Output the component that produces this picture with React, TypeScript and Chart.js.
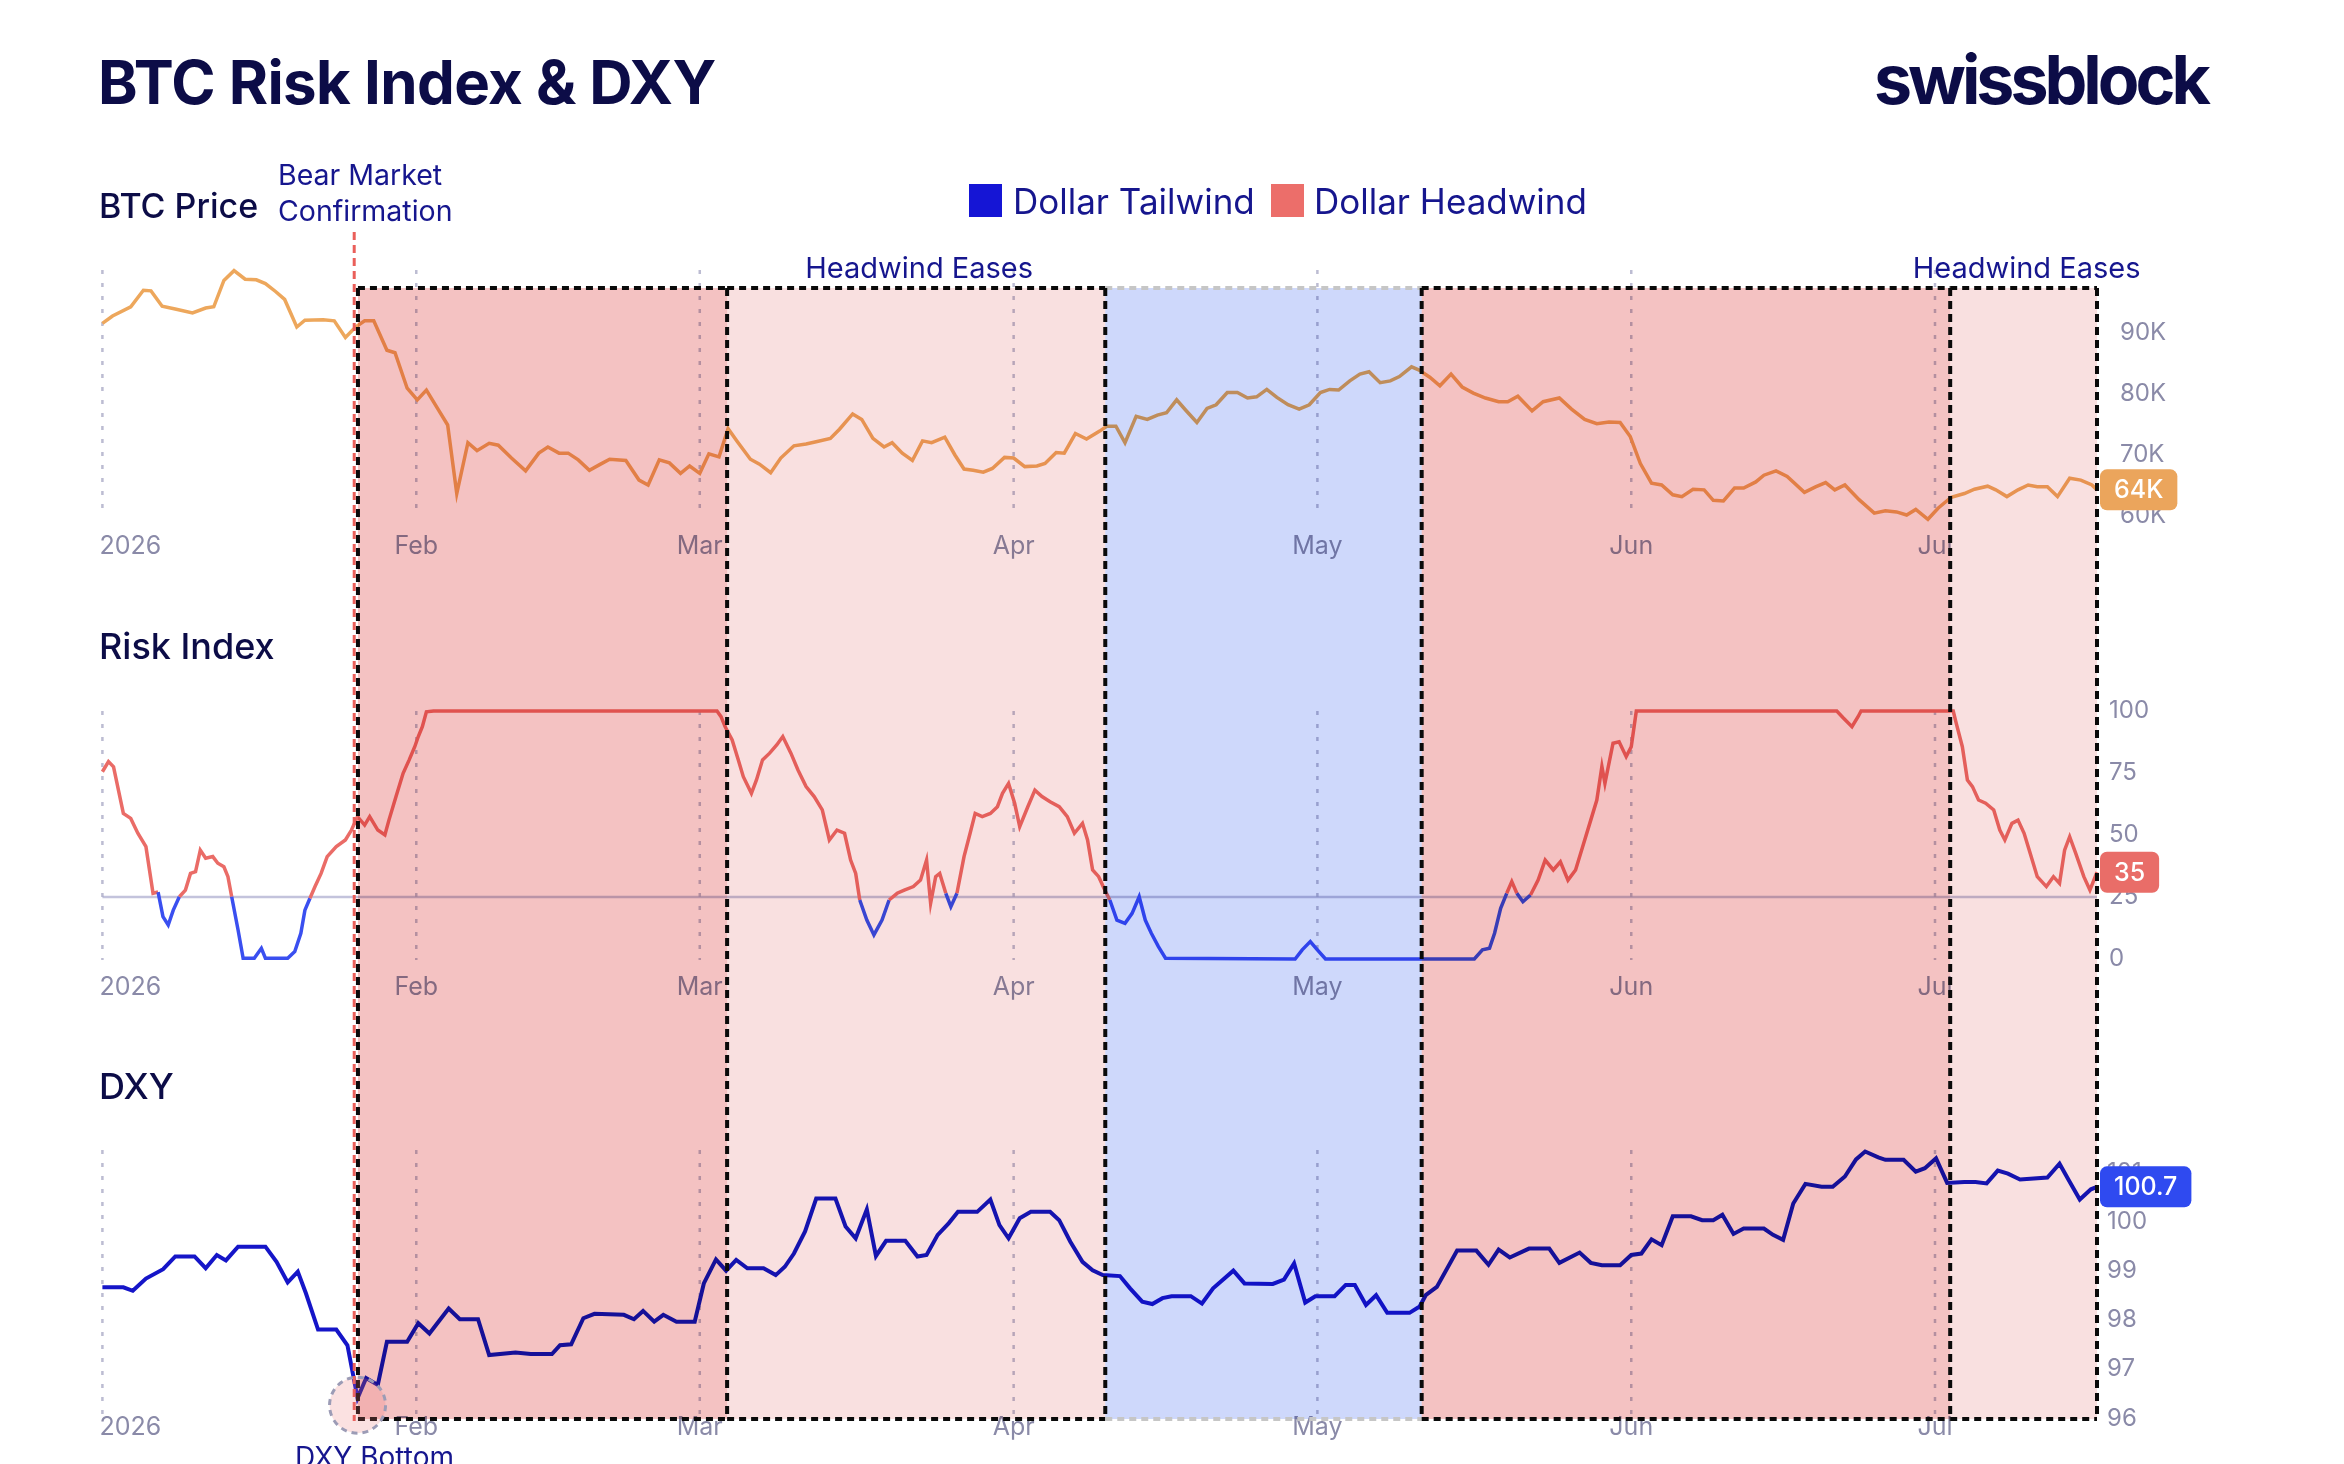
import React, { useEffect, useRef } from "react";
import { Chart, registerables } from "chart.js";

Chart.register(...registerables);

// ---------------- DATA ----------------
// x values are days counted from 2026-01-01
const X_MAX_DAY = 197;
const MONTH_DAYS = [0, 31, 59, 90, 120, 151, 181];
const MONTH_LABELS = ["2026", "Feb", "Mar", "Apr", "May", "Jun", "Jul"];

const BTC_DAY = [0, 1, 2.8, 4.05, 4.8, 5.9, 7.3, 8.9, 10.2, 11, 12, 13, 14.1, 15.2, 16.1, 17.1, 18, 19.2, 20, 21.8, 22.9, 24, 25, 25.9, 26.8, 28.1, 28.9, 30.1, 31.1, 32, 33.1, 34.1, 35, 36.1, 37, 38.2, 39.1, 40.4, 41.8, 43.1, 44, 45.1, 46, 47, 48.1, 49.2, 50.1, 51.7, 53, 53.9, 55, 56, 57.1, 58, 59, 59.9, 60.9, 61.8, 62.7, 64, 64.9, 66, 67, 68.3, 69.5, 70.6, 71.9, 72.8, 74.1, 75, 76.1, 77.2, 78, 79, 80, 81, 81.9, 83.2, 84.2, 85.1, 86, 87, 87.9, 89.1, 90, 91.1, 92.3, 93.1, 94.2, 95, 96.1, 97.2, 98.5, 99.2, 100.1, 101, 102.1, 103.2, 104.2, 105.1, 106.1, 107, 108.1, 109.1, 110, 111.1, 112.1, 113.1, 114, 115, 116, 117.1, 118.2, 119.2, 120.3, 121.2, 122.1, 123.2, 124.2, 125.1, 126.2, 127.2, 128.1, 129.3, 130, 131.1, 132.1, 133.2, 134.3, 135.4, 136.6, 137.9, 138.8, 139.8, 141.2, 142.3, 143.9, 145.1, 146.4, 147.6, 148.8, 149.9, 150.9, 151.9, 153, 154, 155.1, 156, 157.1, 158.2, 159.1, 160.1, 161.2, 162.1, 163.3, 164.1, 165.3, 166.4, 168.1, 169.2, 170.2, 171.1, 172.1, 173.5, 175, 176.1, 177.2, 178.2, 179.1, 180.3, 181.3, 182.6, 183.9, 184.9, 186.2, 187, 188.1, 189.2, 190.2, 191.1, 192.1, 193.1, 194.3, 195.4, 196.5, 197];
const BTC_K = [91.5, 92.7, 94.2, 96.9, 96.8, 94.3, 93.8, 93.2, 94.0, 94.2, 98.5, 100.1, 98.7, 98.6, 98.0, 96.7, 95.4, 90.9, 92.0, 92.1, 91.9, 89.2, 90.9, 91.9, 91.9, 87.1, 86.7, 80.9, 79.0, 80.6, 77.6, 74.9, 63.7, 72.0, 70.7, 71.9, 71.6, 69.5, 67.4, 70.3, 71.3, 70.3, 70.3, 69.2, 67.5, 68.5, 69.3, 69.1, 65.9, 65.1, 69.2, 68.7, 67.0, 68.2, 67.0, 70.2, 69.7, 74.3, 72.2, 69.3, 68.5, 67.1, 69.5, 71.5, 71.8, 72.2, 72.7, 74.2, 76.7, 75.8, 72.7, 71.3, 72.0, 70.3, 69.1, 72.3, 72.0, 72.9, 70.0, 67.7, 67.5, 67.2, 67.8, 69.6, 69.5, 68.1, 68.2, 68.6, 70.4, 70.3, 73.5, 72.6, 73.9, 74.7, 74.7, 72.0, 76.3, 75.8, 76.5, 76.9, 79.0, 77.3, 75.3, 77.6, 78.2, 80.2, 80.2, 79.3, 79.5, 80.7, 79.4, 78.2, 77.5, 78.2, 80.2, 80.7, 80.6, 82.1, 83.2, 83.6, 81.8, 82.1, 82.8, 84.4, 83.9, 82.7, 81.3, 83.2, 81.1, 80.1, 79.3, 78.7, 78.7, 79.6, 77.2, 78.7, 79.3, 77.5, 75.8, 75.1, 75.4, 75.3, 73.0, 68.6, 65.4, 65.1, 63.5, 63.2, 64.4, 64.3, 62.6, 62.5, 64.6, 64.6, 65.6, 66.7, 67.4, 66.5, 63.9, 64.8, 65.5, 64.3, 65.1, 62.7, 60.5, 60.9, 60.7, 60.2, 61.1, 59.5, 61.3, 63.1, 63.7, 64.4, 64.9, 64.3, 63.2, 64.3, 65.1, 64.8, 64.8, 63.2, 66.2, 65.9, 65.1, 64.3];

const RISK_DAY = [0, 0.6, 1.1, 2.07, 2.8, 3.5, 4.3, 5.0, 5.5, 5.98, 6.5, 7.0, 7.6, 8.2, 8.7, 9.2, 9.67, 10.2, 10.9, 11.4, 12.0, 12.4, 12.77, 13.4, 13.9, 15.0, 15.7, 16.1, 18.3, 19.0, 19.6, 20.0, 20.5, 21.0, 21.6, 22.2, 23.1, 24.0, 24.6, 25.2, 25.9, 26.4, 27.2, 27.9, 28.3, 29.0, 29.7, 30.3, 30.85, 31.2, 31.6, 32.0, 32.7, 60.7, 61.1, 61.5, 62.2, 62.8, 63.3, 64.1, 64.6, 65.2, 65.9, 66.6, 67.2, 68.0, 68.7, 69.5, 70.3, 71.1, 71.8, 72.55, 73.3, 73.9, 74.4, 74.8, 75.5, 76.2, 77.0, 77.7, 78.5, 79.2, 80.1, 80.8, 81.4, 81.8, 82.3, 82.7, 83.3, 83.8, 84.4, 85.1, 85.7, 86.2, 86.9, 87.7, 88.4, 88.9, 89.5, 90.1, 90.6, 91.4, 92.1, 92.8, 93.6, 94.5, 95.3, 96.0, 96.8, 97.3, 97.8, 98.4, 99.0, 99.5, 100.2, 101.0, 101.7, 102.4, 103.0, 103.6, 104.3, 105.0, 117.8, 118.5, 119.3, 120.0, 120.8, 135.5, 136.3, 137.0, 137.5, 138.1, 138.7, 139.2, 139.7, 140.3, 141.05, 141.8, 142.5, 143.3, 144.0, 144.75, 145.5, 146.2, 147.0, 147.6, 148.1, 148.4, 149.2, 149.8, 150.5, 151.0, 151.5, 171.3, 171.9, 172.8, 173.4, 173.7, 182.8, 183.1, 183.7, 184.2, 184.7, 185.3, 186.0, 186.8, 187.4, 187.9, 188.6, 189.2, 189.8, 190.4, 191.1, 192.0, 192.7, 193.3, 193.8, 194.3, 194.9, 195.7, 196.3, 197];
const RISK_VAL = [75.5, 79.6, 77.5, 58.7, 56.7, 50.7, 45.3, 26.5, 27, 17.1, 13.7, 19.7, 25.1, 27.8, 34.5, 35.2, 43.9, 40.6, 41.3, 38.6, 37.2, 33.2, 25.1, 11.7, 0.3, 0.3, 4.3, 0.3, 0.3, 3.0, 10.4, 19.7, 24.5, 29.2, 34.5, 41.3, 45.3, 48.0, 52.0, 57.4, 54.0, 57.4, 52.0, 50.0, 56.0, 65.5, 74.9, 80.3, 85.6, 89.7, 93.7, 99.7, 100, 100, 97.7, 93.7, 88.3, 80.3, 73.5, 66.8, 72.2, 80.3, 83.0, 86.3, 89.7, 83.0, 76.2, 69.5, 65.5, 60.1, 48.0, 52.0, 50.7, 39.9, 34.5, 23.8, 15.7, 9.7, 15.7, 23.8, 26.5, 27.8, 29.2, 31.8, 39.9, 22.5, 33.2, 34.5, 26.5, 21.1, 26.5, 41.3, 50.7, 58.7, 57.4, 58.7, 61.4, 66.8, 70.8, 62.8, 53.4, 61.4, 68.1, 65.5, 63.4, 61.4, 57.4, 50.7, 54.7, 48.0, 35.9, 33.2, 27.8, 23.8, 15.7, 14.4, 18.4, 25.1, 15.7, 10.4, 5.0, 0.3, 0, 3.7, 7.0, 3.7, 0, 0, 3.7, 4.3, 10.4, 20.4, 26.5, 31.2, 26.5, 23.1, 25.8, 31.8, 39.9, 35.9, 39.2, 31.8, 35.9, 45.3, 56.0, 64.1, 77.6, 70.8, 87.0, 87.6, 81.6, 85.6, 100, 100, 97.4, 93.7, 97.7, 100, 100, 95.0, 85.6, 72.2, 69.5, 64.1, 62.8, 60.1, 52.0, 48.0, 54.7, 56.0, 50.7, 42.6, 33.2, 29.2, 33.2, 30.5, 43.9, 49.3, 42.6, 33.2, 27.8, 35];

const DXY_DAY = [0, 2.07, 3.0, 4.3, 6.0, 7.2, 9.1, 10.2, 11.3, 12.2, 13.4, 16.1, 17.2, 18.3, 19.3, 20.1, 21.3, 23.1, 24.2, 25.2, 26.05, 27.2, 28.1, 30.1, 31.2, 32.3, 34.2, 35.3, 37.1, 38.2, 40.8, 42.3, 44.4, 45.2, 46.3, 47.5, 48.6, 51.5, 52.5, 53.4, 54.5, 55.4, 56.7, 58.5, 59.4, 60.6, 61.6, 62.6, 63.7, 65.3, 66.5, 67.4, 68.3, 69.4, 70.5, 72.4, 73.4, 74.4, 75.5, 76.4, 77.4, 79.3, 80.5, 81.4, 82.5, 83.6, 84.5, 86.4, 87.7, 88.6, 89.5, 90.6, 91.7, 93.6, 94.5, 95.6, 96.8, 97.8, 98.8, 100.5, 101.5, 102.7, 103.7, 104.7, 105.6, 107.5, 108.6, 109.7, 111.7, 112.8, 115.6, 116.7, 117.7, 118.8, 119.8, 121.7, 122.8, 123.7, 124.8, 125.8, 126.9, 129.1, 130.1, 130.7, 131.8, 133.8, 135.7, 136.9, 137.9, 139.0, 140.9, 142.9, 143.9, 145.9, 147.0, 148.1, 149.9, 151.0, 152.0, 153.0, 154.0, 155.1, 156.9, 158.0, 159.1, 160.0, 161.1, 162.1, 164.1, 165.0, 166.0, 167.0, 168.2, 169.8, 170.9, 172.1, 173.2, 174.1, 175.4, 176.1, 177.9, 179.1, 180.0, 181.1, 182.2, 183.9, 185.0, 186.1, 187.2, 188.2, 189.4, 192.1, 193.3, 194.2, 195.3, 196.4, 197];
const DXY_VAL = [98.67, 98.67, 98.60, 98.85, 99.04, 99.30, 99.30, 99.06, 99.33, 99.22, 99.50, 99.50, 99.19, 98.77, 98.99, 98.55, 97.81, 97.81, 97.49, 96.41, 96.82, 96.68, 97.56, 97.56, 97.94, 97.73, 98.24, 98.02, 98.02, 97.29, 97.34, 97.31, 97.31, 97.49, 97.51, 98.04, 98.13, 98.11, 98.02, 98.19, 97.97, 98.11, 97.97, 97.97, 98.75, 99.24, 99.01, 99.23, 99.06, 99.06, 98.92, 99.09, 99.36, 99.81, 100.48, 100.48, 99.91, 99.67, 100.26, 99.31, 99.62, 99.62, 99.30, 99.33, 99.74, 99.98, 100.21, 100.21, 100.46, 99.94, 99.67, 100.08, 100.21, 100.21, 100.04, 99.60, 99.19, 99.02, 98.92, 98.90, 98.65, 98.38, 98.33, 98.45, 98.49, 98.49, 98.34, 98.65, 99.01, 98.75, 98.74, 98.83, 99.16, 98.36, 98.49, 98.49, 98.72, 98.72, 98.31, 98.51, 98.15, 98.15, 98.28, 98.51, 98.68, 99.42, 99.42, 99.13, 99.44, 99.28, 99.46, 99.46, 99.17, 99.38, 99.17, 99.12, 99.12, 99.33, 99.36, 99.65, 99.53, 100.12, 100.12, 100.04, 100.04, 100.15, 99.76, 99.87, 99.87, 99.74, 99.64, 100.38, 100.78, 100.72, 100.72, 100.93, 101.28, 101.44, 101.32, 101.27, 101.27, 101.03, 101.10, 101.30, 100.80, 100.82, 100.82, 100.79, 101.05, 100.99, 100.87, 100.91, 101.19, 100.86, 100.46, 100.67, 100.72];

// Regime periods (days from 2026-01-01)
const REGION_START = [25.24, 61.7, 99.05, 130.3, 182.5];
const REGION_END = [61.7, 99.05, 130.3, 182.5, 197];
const REGION_KIND = ["headwind", "eases", "tailwind", "headwind", "eases"];
const BEAR_CONFIRM_DAY = 24.87;

const BTC_TICKS = [60, 70, 80, 90];
const RISK_TICKS = [0, 25, 50, 75, 100];
const DXY_TICKS = [96, 97, 98, 99, 100, 101];
const RISK_THRESHOLD = 25;

// ---------------- LAYOUT / STYLE ----------------
const W = 2344;
const H = 1464;
const PLOT_LEFT = 102.4;
const PLOT_RIGHT = 2097;
const AREA_TOP = 240;
const AREA_BOTTOM = 1444;
const BOX_TOP = 288;
const BOX_BOTTOM = 1419;
const PX_PER_DAY = (PLOT_RIGHT - PLOT_LEFT) / X_MAX_DAY;

const NAVY = "#0c0c47";
const LABEL_BLUE = "#16168e";
const TICK_COLOR = "#8a8aa8";
const BTC_COLOR = "#eda75c";
const RISK_RED = "#ea6c67";
const RISK_BLUE = "#3a4ff0";
const DXY_COLOR = "#1515c8";
const REGION_FILL: Record<string, string> = {
  headwind: "#f4c2c2",
  eases: "#f9e0e0",
  tailwind: "#ced8fb",
};

type Panel = {
  axis: string;
  pxA: number; vA: number; pxB: number; vB: number;
  gridTop: number; gridBottom: number; monthY: number; tickX: number;
  ticks: number[]; fmt: (v: number) => string;
};

const PANELS: Panel[] = [
  { axis: "yBtc", pxA: 332.5, vA: 90, pxB: 516.2, vB: 60, gridTop: 270, gridBottom: 514, monthY: 546, tickX: 2120, ticks: BTC_TICKS, fmt: (v) => `${v}K` },
  { axis: "yRisk", pxA: 711, vA: 100, pxB: 959, vB: 0, gridTop: 711, gridBottom: 960, monthY: 987, tickX: 2109, ticks: RISK_TICKS, fmt: (v) => `${v}` },
  { axis: "yDxy", pxA: 1173.1, vA: 101, pxB: 1418.3, vB: 96, gridTop: 1150, gridBottom: 1418, monthY: 1427, tickX: 2107, ticks: DXY_TICKS, fmt: (v) => `${v}` },
];

function axisRange(p: Panel) {
  const k = (p.pxB - p.pxA) / (p.vA - p.vB);
  return { max: p.vA + (p.pxA - AREA_TOP) / k, min: p.vB - (AREA_BOTTOM - p.pxB) / k };
}

const BADGES = [
  { axis: "yBtc", values: BTC_K, color: "#eba55c", fmt: (v: number) => `${Math.round(v)}K` },
  { axis: "yRisk", values: RISK_VAL, color: "#e96d68", fmt: (v: number) => `${Math.round(v)}` },
  { axis: "yDxy", values: DXY_VAL, color: "#2f4af0", fmt: (v: number) => v.toFixed(1) },
];

const panelsPlugin = {
  id: "panels",
  beforeDatasetsDraw(chart: any) {
    const ctx: CanvasRenderingContext2D = chart.ctx;
    const xs = chart.scales.x;
    ctx.save();
    PANELS.forEach((p) => {
      ctx.strokeStyle = "rgba(165,165,195,0.75)";
      ctx.lineWidth = 2.5;
      ctx.setLineDash([4, 9]);
      MONTH_DAYS.forEach((d) => {
        const px = xs.getPixelForValue(d);
        ctx.beginPath();
        ctx.moveTo(px, p.gridTop);
        ctx.lineTo(px, p.gridBottom);
        ctx.stroke();
      });
      ctx.setLineDash([]);
      ctx.font = "25px Inter";
      ctx.fillStyle = TICK_COLOR;
      ctx.textBaseline = "middle";
      MONTH_DAYS.forEach((d, i) => {
        const px = xs.getPixelForValue(d);
        if (i === 0) {
          ctx.textAlign = "left";
          ctx.fillText(MONTH_LABELS[i], px - 3, p.monthY);
        } else {
          ctx.textAlign = "center";
          ctx.fillText(MONTH_LABELS[i], px, p.monthY);
        }
      });
    });
    const yr = chart.scales.yRisk.getPixelForValue(RISK_THRESHOLD);
    ctx.strokeStyle = "rgba(170,170,205,0.7)";
    ctx.lineWidth = 2.5;
    ctx.beginPath();
    ctx.moveTo(chart.chartArea.left, yr);
    ctx.lineTo(chart.chartArea.right, yr);
    ctx.stroke();
    ctx.restore();
  },
  afterDatasetsDraw(chart: any) {
    const ctx: CanvasRenderingContext2D = chart.ctx;
    const xs = chart.scales.x;
    ctx.save();
    // regime shading (blended over the lines)
    ctx.globalCompositeOperation = "multiply";
    REGION_START.forEach((s, i) => {
      const x0 = xs.getPixelForValue(s);
      const x1 = xs.getPixelForValue(REGION_END[i]);
      ctx.fillStyle = REGION_FILL[REGION_KIND[i]];
      ctx.fillRect(x0, BOX_TOP, x1 - x0, BOX_BOTTOM - BOX_TOP);
    });
    ctx.globalCompositeOperation = "source-over";

    // bear market confirmation line
    const xb = xs.getPixelForValue(BEAR_CONFIRM_DAY);
    ctx.strokeStyle = "#ea5f5a";
    ctx.lineWidth = 3;
    ctx.setLineDash([8, 5]);
    ctx.beginPath();
    ctx.moveTo(xb, 232);
    ctx.lineTo(xb, BOX_BOTTOM + 2);
    ctx.stroke();

    // box borders
    ctx.lineWidth = 4;
    ctx.setLineDash([7, 5]);
    REGION_START.forEach((s, i) => {
      const x0 = xs.getPixelForValue(s);
      const x1 = xs.getPixelForValue(REGION_END[i]);
      ctx.strokeStyle = REGION_KIND[i] === "tailwind" ? "#c6c6c6" : "#0a0a0a";
      [BOX_TOP, BOX_BOTTOM].forEach((y) => {
        ctx.beginPath();
        ctx.moveTo(x0, y);
        ctx.lineTo(x1, y);
        ctx.stroke();
      });
    });
    ctx.strokeStyle = "#0a0a0a";
    ctx.setLineDash([8, 5]);
    [...REGION_START, REGION_END[REGION_END.length - 1]].forEach((d) => {
      const px = xs.getPixelForValue(d);
      ctx.beginPath();
      ctx.moveTo(px, BOX_TOP);
      ctx.lineTo(px, BOX_BOTTOM);
      ctx.stroke();
    });

    // DXY bottom marker
    let mi = 0;
    DXY_VAL.forEach((v, i) => { if (v < DXY_VAL[mi]) mi = i; });
    const cx = xs.getPixelForValue(DXY_DAY[mi]);
    const cy = chart.scales.yDxy.getPixelForValue(DXY_VAL[mi]) + 7;
    ctx.beginPath();
    ctx.arc(cx, cy, 28, 0, Math.PI * 2);
    ctx.fillStyle = "rgba(236,120,120,0.22)";
    ctx.fill();
    ctx.strokeStyle = "#9c9cb6";
    ctx.lineWidth = 3;
    ctx.setLineDash([6, 5]);
    ctx.stroke();
    ctx.setLineDash([]);

    // right-side tick labels
    ctx.font = "24px Inter";
    ctx.fillStyle = TICK_COLOR;
    ctx.textAlign = "left";
    ctx.textBaseline = "middle";
    PANELS.forEach((p) => {
      const ys = chart.scales[p.axis];
      p.ticks.forEach((t) => {
        ctx.fillText(p.fmt(t), p.tickX, ys.getPixelForValue(t));
      });
    });

    // last-value badges
    ctx.font = "500 25px Inter";
    BADGES.forEach((b) => {
      const v = b.values[b.values.length - 1];
      const y = chart.scales[b.axis].getPixelForValue(v);
      const label = b.fmt(v);
      const tw = ctx.measureText(label).width;
      const bx = chart.chartArea.right + 3;
      const bw = tw + 28;
      const bh = 41;
      ctx.fillStyle = b.color;
      ctx.beginPath();
      (ctx as any).roundRect(bx, y - bh / 2, bw, bh, 7);
      ctx.fill();
      ctx.fillStyle = "#ffffff";
      ctx.textAlign = "left";
      ctx.fillText(label, bx + 14, y + 1);
    });
    ctx.restore();
  },
};

function Txt(props: { x: number; base: number; size: number; weight?: number; color: string; center?: boolean; spacing?: number; children: React.ReactNode }) {
  const { x, base, size, weight = 400, color, center, spacing = 0, children } = props;
  return (
    <div
      style={{
        position: "absolute",
        left: x,
        top: base - 0.863 * size,
        fontSize: size,
        lineHeight: 1,
        fontWeight: weight,
        color,
        whiteSpace: "nowrap",
        letterSpacing: spacing,
        transform: center ? "translateX(-50%)" : undefined,
      }}
    >
      {children}
    </div>
  );
}

const dayToPx = (d: number) => PLOT_LEFT + d * PX_PER_DAY;

export default function App() {
  const canvasRef = useRef<HTMLCanvasElement | null>(null);

  useEffect(() => {
    if (!canvasRef.current) return;
    const ranges = PANELS.map(axisRange);
    const chart = new Chart(canvasRef.current, {
      type: "line",
      data: {
        datasets: [
          {
            label: "BTC Price",
            data: BTC_DAY.map((d, i) => ({ x: d, y: BTC_K[i] })),
            yAxisID: "yBtc",
            borderColor: BTC_COLOR,
            borderWidth: 3.5,
            pointRadius: 0,
            tension: 0,
            clip: false as any,
          },
          {
            label: "Risk Index",
            data: RISK_DAY.map((d, i) => ({ x: d, y: RISK_VAL[i] })),
            yAxisID: "yRisk",
            borderColor: RISK_RED,
            borderWidth: 3.5,
            pointRadius: 0,
            tension: 0,
            clip: false as any,
            segment: {
              borderColor: (c: any) =>
                (c.p0.parsed.y + c.p1.parsed.y) / 2 < RISK_THRESHOLD ? RISK_BLUE : RISK_RED,
            },
          },
          {
            label: "DXY",
            data: DXY_DAY.map((d, i) => ({ x: d, y: DXY_VAL[i] })),
            yAxisID: "yDxy",
            borderColor: DXY_COLOR,
            borderWidth: 4,
            pointRadius: 0,
            tension: 0,
            clip: false as any,
          },
        ],
      },
      options: {
        responsive: false,
        animation: false,
        devicePixelRatio: 1,
        events: [],
        layout: {
          padding: { left: PLOT_LEFT, right: W - PLOT_RIGHT, top: AREA_TOP, bottom: H - AREA_BOTTOM },
        },
        plugins: { legend: { display: false }, tooltip: { enabled: false } },
        scales: {
          x: { type: "linear", min: 0, max: X_MAX_DAY, display: false },
          yBtc: { type: "linear", display: false, min: ranges[0].min, max: ranges[0].max },
          yRisk: { type: "linear", display: false, min: ranges[1].min, max: ranges[1].max },
          yDxy: { type: "linear", display: false, min: ranges[2].min, max: ranges[2].max },
        },
      },
      plugins: [panelsPlugin],
    });
    return () => chart.destroy();
  }, []);

  const easesCenters = REGION_START.map((s, i) => ({ s, e: REGION_END[i], k: REGION_KIND[i] })).filter((r) => r.k === "eases");

  return (
    <div style={{ position: "relative", width: W, height: H, overflow: "hidden", background: "#ffffff", fontFamily: "Inter, 'Noto Sans', sans-serif" }}>
      <style>{`html,body{margin:0;padding:0;overflow:hidden;background:#fff}`}</style>
      <canvas ref={canvasRef} width={W} height={H} style={{ position: "absolute", left: 0, top: 0, width: W, height: H }} />
      <Txt x={98} base={104} size={60} weight={700} color={NAVY} spacing={-0.6}>BTC Risk Index &amp; DXY</Txt>
      <Txt x={1874} base={103.5} size={68} weight={700} color={NAVY} spacing={-4}>swissblock</Txt>
      <Txt x={99} base={218.5} size={34} weight={500} color={NAVY}>BTC Price</Txt>
      <Txt x={278} base={185.6} size={28.5} color={LABEL_BLUE}>Bear Market</Txt>
      <Txt x={278} base={222} size={28.5} color={LABEL_BLUE}>Confirmation</Txt>
      <div style={{ position: "absolute", left: 969, top: 184, width: 33, height: 33, background: "#1515d5" }} />
      <Txt x={1013} base={214} size={35} color={LABEL_BLUE}>Dollar Tailwind</Txt>
      <div style={{ position: "absolute", left: 1271, top: 184, width: 33, height: 33, background: "#ec6e6a" }} />
      <Txt x={1314} base={214} size={35} color={LABEL_BLUE}>Dollar Headwind</Txt>
      {easesCenters.map((r, i) => (
        <Txt key={i} x={dayToPx((r.s + r.e) / 2) + 3} base={278.5} size={29} color={LABEL_BLUE} center>
          Headwind Eases
        </Txt>
      ))}
      <Txt x={99} base={659} size={36} weight={500} color={NAVY}>Risk Index</Txt>
      <Txt x={99} base={1099} size={36} weight={500} color={NAVY}>DXY</Txt>
      <Txt x={295} base={1467} size={28} color={LABEL_BLUE}>DXY Bottom</Txt>
    </div>
  );
}
